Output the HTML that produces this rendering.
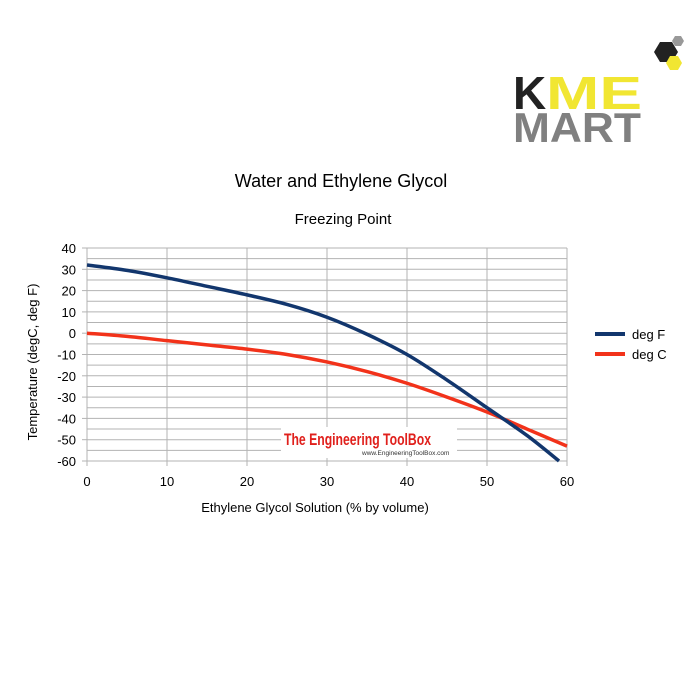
<!DOCTYPE html>
<html><head><meta charset="utf-8"><style>
body{margin:0;background:#fff;font-family:"Liberation Sans",sans-serif}
svg text{font-family:"Liberation Sans",sans-serif}
</style></head><body>
<svg width="687" height="687">
<g>
<polygon points="660,42 672,42 678,52 672,62 660,62 654,52" fill="#222"/>
<polygon points="670,56 678,56 682,63 678,70 670,70 666,63" fill="#f1e632"/>
<polygon points="675,36 681,36 684,41 681,46 675,46 672,41" fill="#999"/>
<text x="513" y="109" font-size="46" font-weight="bold" fill="#222">K</text>
<text x="546" y="109" font-size="46" font-weight="bold" fill="#f1e632" textLength="96" lengthAdjust="spacingAndGlyphs">ME</text>
<text x="513" y="142" font-size="42" font-weight="bold" fill="#808080" textLength="128" lengthAdjust="spacingAndGlyphs">MART</text>
</g>
<text x="341" y="187" font-size="18" text-anchor="middle">Water and Ethylene Glycol</text>
<text x="343" y="224" font-size="15" text-anchor="middle">Freezing Point</text>
<g id="grid"></g>
<g id="axes"></g>
<g>
<rect x="281" y="427" width="176" height="31" fill="#fff"/>
<text x="284" y="445" font-size="17" font-weight="bold" fill="#e0201c" textLength="147" lengthAdjust="spacingAndGlyphs">The Engineering ToolBox</text>
<text x="362" y="455" font-size="6.5" fill="#333">www.EngineeringToolBox.com</text>
</g>
<g id="series"></g>
<text transform="translate(37,362) rotate(-90)" font-size="13" text-anchor="middle">Temperature (degC, deg F)</text>
<text x="315" y="512" font-size="13" text-anchor="middle">Ethylene Glycol Solution (% by volume)</text>
<g>
<line x1="595" y1="334" x2="625" y2="334" stroke="#12366d" stroke-width="4"/>
<text x="632" y="339" font-size="13">deg F</text>
<line x1="595" y1="354" x2="625" y2="354" stroke="#f2321a" stroke-width="4"/>
<text x="632" y="359" font-size="13">deg C</text>
</g>
</svg>
<script>
const xF=[0,5,10,15,20,25,30,35,40,45,50,55,59];
const degF=[32,29.5,26,22,18,13.5,7.5,-0.5,-10,-22,-35,-48,-60];
const xC=[0,5,10,15,20,25,30,35,40,45,50,55,60];
const degC=[0,-1.5,-3.5,-5.5,-7.5,-10,-13.5,-18,-23.5,-30,-37,-45,-53];
const xTicks=[0,10,20,30,40,50,60];
const yTicks=[40,30,20,10,0,-10,-20,-30,-40,-50,-60];
const NS="http://www.w3.org/2000/svg";
const X=v=>87+v*8, Y=v=>248+(40-v)*2.13;
const grid=document.getElementById('grid'),axes=document.getElementById('axes'),ser=document.getElementById('series');
function mk(t,a,p){const e=document.createElementNS(NS,t);for(const k in a)e.setAttribute(k,a[k]);p.appendChild(e);return e;}
for(let v=-60;v<=40;v+=5){const l=mk('line',{x1:X(0),x2:X(60),y1:Y(v),y2:Y(v),stroke:'#b3b3b3','stroke-width':1},grid);

}
xTicks.forEach(v=>{const l=mk('line',{x1:X(v),x2:X(v),y1:Y(40),y2:Y(-60)+5,stroke:'#b3b3b3','stroke-width':1},grid);


const t=mk('text',{x:X(v),y:486,'font-size':13,'text-anchor':'middle'},axes);t.textContent=v;

});
yTicks.forEach(v=>{const l=mk('line',{x1:X(0)-5,x2:X(0),y1:Y(v),y2:Y(v),stroke:'#b3b3b3'},grid);


const t=mk('text',{x:76,y:Y(v)+5,'font-size':13,'text-anchor':'end'},axes);t.textContent=v;

});
function path(xs,ys){let d='M'+X(xs[0])+','+Y(ys[0]);
for(let i=0;i<xs.length-1;i++){const p0=[X(xs[Math.max(i-1,0)]),Y(ys[Math.max(i-1,0)])],p1=[X(xs[i]),Y(ys[i])],p2=[X(xs[i+1]),Y(ys[i+1])],p3=[X(xs[Math.min(i+2,xs.length-1)]),Y(ys[Math.min(i+2,xs.length-1)])];
d+=' C'+(p1[0]+(p2[0]-p0[0])/6)+','+(p1[1]+(p2[1]-p0[1])/6)+' '+(p2[0]-(p3[0]-p1[0])/6)+','+(p2[1]-(p3[1]-p1[1])/6)+' '+p2[0]+','+p2[1];}
return d;}
const c=mk('path',{d:path(xC,degC),fill:'none',stroke:'#f2321a','stroke-width':3.5},ser);


const f=mk('path',{d:path(xF,degF),fill:'none',stroke:'#12366d','stroke-width':3.5},ser);


</script>
</body></html>
